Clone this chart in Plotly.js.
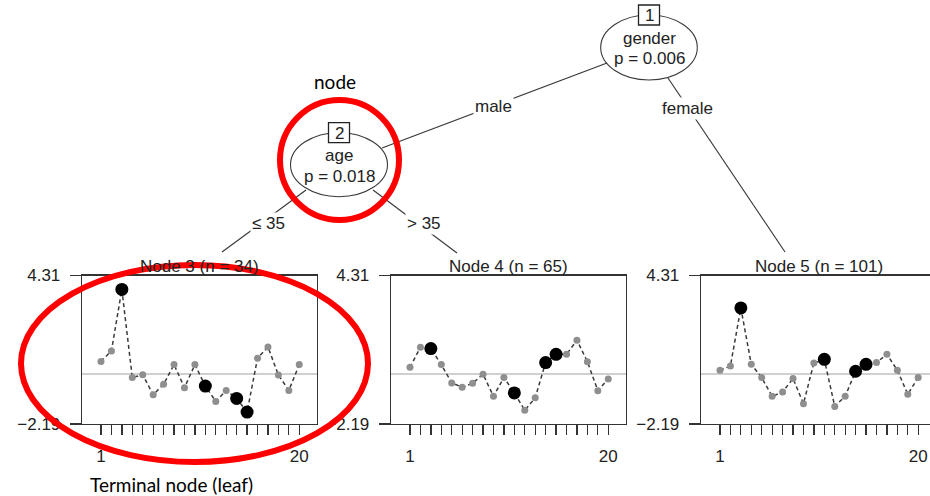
<!DOCTYPE html>
<html>
<head>
<meta charset="utf-8">
<script src="https://cdn.plot.ly/plotly-3.0.1.min.js"></script>
<style>html,body{margin:0;padding:0;background:#fff;}#chart{width:930px;height:496px;}</style>
</head>
<body>
<div id="chart"></div>
<script>
// ---- data ----
const positions = [1,2,3,4,5,6,7,8,9,10,11,12,13,14,15,16,17,18,19,20];
const node3Values = [0.55,1.01,3.70,-0.16,-0.03,-0.91,-0.45,0.41,-0.60,0.41,-0.53,-1.20,-0.72,-1.07,-1.67,0.69,1.18,-0.04,-0.72,0.41];
const node4Values = [0.29,1.17,1.11,0.41,-0.39,-0.58,-0.41,-0.01,-0.98,-0.15,-0.83,-1.59,-1.04,0.50,0.86,0.86,1.48,0.54,-0.73,-0.22];
const node5Values = [0.16,0.35,2.89,0.42,-0.16,-0.98,-0.79,-0.20,-1.30,0.48,0.64,-1.42,-0.98,0.12,0.42,0.50,0.86,0.16,-0.89,-0.15];
const highlighted = [3,11,14,15];
const panelTitles = ["Node 3 (n = 34)","Node 4 (n = 65)","Node 5 (n = 101)"];
const yTickValues = [4.31,-2.19];
const yTickLabels = ["4.31","\u22122.19"];
const xTickLabelPositions = [1,20];
const nodeLabels = [["1","gender","p = 0.006"],["2","age","p = 0.018"]];
const edgeLabels = ["male","female","\u2264 35","> 35"];

// ---- layout helpers ----
const W = 930, H = 496;
const X = p => p / W;
const Y = p => 1 - p / H;
const FONT = "Liberation Sans, Arial, sans-serif";
const TXT = "#222";

const panelSeries = [node3Values, node4Values, node5Values];
const traces = [];
panelSeries.forEach((vals, k) => {
  const ax = k === 0 ? "" : String(k + 1);
  traces.push({
    x: positions, y: vals, xaxis: "x" + ax, yaxis: "y" + ax,
    type: "scatter", mode: "lines+markers",
    line: {color: "#3a3a3a", width: 1.5, dash: "4px,3px"},
    marker: {color: "#8f8f8f", size: 7},
    showlegend: false, hoverinfo: "skip"
  });
  traces.push({
    x: highlighted, y: highlighted.map(i => vals[i - 1]),
    xaxis: "x" + ax, yaxis: "y" + ax,
    type: "scatter", mode: "markers",
    marker: {color: "#000", size: 13},
    showlegend: false, hoverinfo: "skip"
  });
});

const xTickText = positions.map(p => xTickLabelPositions.includes(p) ? String(p) : "");
function xAxis(domain, range, anchor) {
  return {
    domain: domain, range: range, anchor: anchor,
    showline: true, mirror: true, linecolor: "#333", linewidth: 1.3,
    showgrid: false, zeroline: false,
    tickmode: "array", tickvals: positions, ticktext: xTickText,
    ticks: "outside", ticklen: 10, tickwidth: 1.3, tickcolor: "#333",
    ticklabelstandoff: 6,
    tickfont: {family: FONT, size: 17, color: TXT},
    fixedrange: true
  };
}
function yAxis(anchor, mirror) {
  return {
    domain: [Y(424), Y(275.5)], range: [-2.19, 4.31], anchor: anchor,
    showline: true, mirror: mirror, linecolor: "#333", linewidth: 1.3,
    showgrid: false, zeroline: true, zerolinecolor: "#d0d0d0", zerolinewidth: 1.3,
    tickmode: "array", tickvals: yTickValues, ticktext: yTickLabels,
    ticks: "outside", ticklen: 11, tickwidth: 1.3, tickcolor: "#333",
    ticklabelstandoff: 6,
    tickfont: {family: FONT, size: 17, color: TXT},
    fixedrange: true
  };
}

const shapes = [];
const annotations = [];
function line(x0, y0, x1, y1) {
  shapes.push({type: "line", xref: "paper", yref: "paper", x0: X(x0), y0: Y(y0), x1: X(x1), y1: Y(y1),
    line: {color: "#3a3a3a", width: 1.2}});
}
function text(t, x, y, opts) {
  annotations.push(Object.assign({text: t, x: X(x), y: Y(y), xref: "paper", yref: "paper",
    showarrow: false, xanchor: "center", yanchor: "middle",
    font: {family: FONT, size: 17, color: TXT}}, opts || {}));
}
// edges
line(382, 148, 607, 63);
line(668, 78, 785, 252);
line(306, 190, 222, 252);
line(373, 190, 457, 253);
// inner nodes (ellipse + numbered box)
const nodeGeom = [{cx: 649, top: 15, bottom: 80, rx: 48.3}, {cx: 339, top: 132.7, bottom: 196.7, rx: 48.5}];
nodeGeom.forEach((g, k) => {
  shapes.push({type: "circle", xref: "paper", yref: "paper",
    x0: X(g.cx - g.rx), x1: X(g.cx + g.rx), y0: Y(g.bottom), y1: Y(g.top),
    line: {color: "#3a3a3a", width: 1.1}, fillcolor: "rgba(255,255,255,0)"});
  shapes.push({type: "rect", xref: "paper", yref: "paper",
    x0: X(g.cx - 10.5), x1: X(g.cx + 10.5), y0: Y(g.top + 10), y1: Y(g.top - 10),
    line: {color: "#222", width: 1.3}, fillcolor: "#fff"});
  text(nodeLabels[k][0], g.cx, g.top + 0.5);
  text(nodeLabels[k][1], g.cx, g.top + 23);
  text(nodeLabels[k][2], g.cx, g.top + 44);
});
// edge labels
const edgeLabelPos = [[494, 107], [687, 108], [268, 223], [424, 223]];
edgeLabels.forEach((t, k) => text(t, edgeLabelPos[k][0], edgeLabelPos[k][1], {bgcolor: "#fff", borderpad: 1}));
// panel titles
const titleX = [199.5, 508.5, 818.5];
panelTitles.forEach((t, k) => text(t, titleX[k], 266));
// red highlight marks
shapes.push({type: "circle", xref: "paper", yref: "paper", x0: X(280), x1: X(399), y0: Y(220), y1: Y(100),
  line: {color: "#ff0000", width: 6}});
shapes.push({type: "circle", xref: "paper", yref: "paper", x0: X(21), x1: X(368), y0: Y(462), y1: Y(265),
  line: {color: "#ff0000", width: 6}});
// callout texts
text("node", 335, 81, {font: {family: "Lato, Carlito, sans-serif", size: 19, color: "#000"}});
text("Terminal node (leaf)", 88, 484, {xanchor: "left", font: {family: "Lato, Carlito, sans-serif", size: 19, color: "#000"}});

const layout = {
  width: W, height: H,
  margin: {l: 0, r: 0, t: 0, b: 0},
  paper_bgcolor: "#fff", plot_bgcolor: "rgba(0,0,0,0)",
  showlegend: false,
  xaxis: xAxis([X(82), X(317)], [-0.82, 21.7], "y"),
  xaxis2: xAxis([X(391), X(626)], [-0.82, 21.7], "y2"),
  xaxis3: xAxis([X(701), 1], [-0.82, 21.13], "y3"),
  yaxis: yAxis("x", true),
  yaxis2: yAxis("x2", true),
  yaxis3: yAxis("x3", false),
  shapes: shapes,
  annotations: annotations
};
Plotly.newPlot("chart", traces, layout, {staticPlot: true, displayModeBar: false});
</script>
</body>
</html>
